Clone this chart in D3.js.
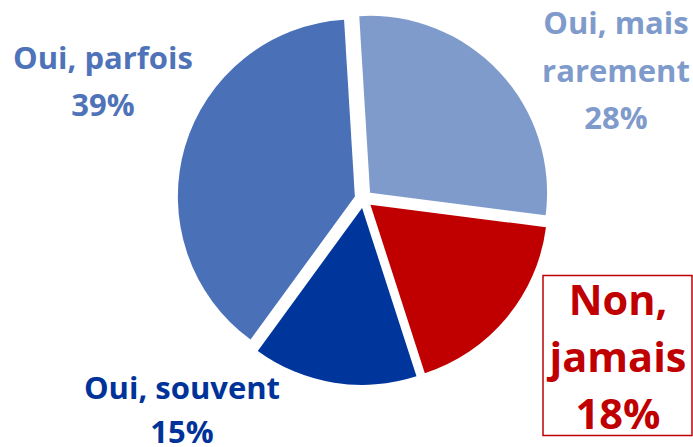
<!DOCTYPE html>
<html>
<head>
<meta charset="utf-8">
<script src="https://cdn.jsdelivr.net/npm/d3@7"></script>
<style>
  body { margin: 0; background: #fff; }
  text { font-family: "Open Sans", Lato, sans-serif; font-weight: bold; }
</style>
</head>
<body>
<div id="holder"></div>
<script>
const w = 693;
const h = 447;

// DATA
const labels = [["Oui, mais", "rarement"], ["Non,", "jamais"], ["Oui, souvent"], ["Oui, parfois"]];
const values = [28, 18, 15, 39];

// STYLE
const colors = ["#7f9bcc", "#c00000", "#00359c", "#4a70b7"];
const textColors = ["#7f9bcc", "#c00000", "#003399", "#4f73b9"];
const cx = 363.5, cy = 199, radius = 177, explode = 9;
const startDeg = -3.5;

// label anchor (centre x, first baseline y), font size, line gap
const labelPos = [
    { x: 616, y: 34, size: 31, gap: 47.5 },
    { x: 618, y: 315, size: 41.5, gap: 57 },
    { x: 182, y: 399, size: 31, gap: 44 },
    { x: 103, y: 69, size: 31, gap: 47 }
];

const svg = d3.select("#holder")
    .append("svg")
    .attr("width", w)
    .attr("height", h);

const pie = d3.pie()
    .sort(null)
    .value(d => d)
    .startAngle(startDeg * Math.PI / 180)
    .endAngle((startDeg + 360) * Math.PI / 180);

const arc = d3.arc().innerRadius(0).outerRadius(radius);

const arcs = pie(values);

// SLICES (exploded along the bisector)
svg.append("g")
    .attr("transform", `translate(${cx},${cy})`)
    .selectAll("path")
    .data(arcs)
    .enter()
    .append("path")
    .attr("d", arc)
    .attr("fill", (d, i) => colors[i])
    .attr("transform", d => {
        const a = (d.startAngle + d.endAngle) / 2;
        return `translate(${explode * Math.sin(a)},${-explode * Math.cos(a)})`;
    });

// BOX round "Non, jamais"
svg.append("rect")
    .attr("x", 543)
    .attr("y", 275.5)
    .attr("width", 149)
    .attr("height", 160)
    .attr("fill", "none")
    .attr("stroke", "#c00000")
    .attr("stroke-width", 1.5);

// LABELS
arcs.forEach((d, i) => {
    const p = labelPos[i];
    const lines = labels[i].concat([values[i] + "%"]);
    const t = svg.append("text")
        .attr("text-anchor", "middle")
        .attr("fill", textColors[i])
        .style("font-size", p.size + "px");
    lines.forEach((l, j) => {
        t.append("tspan")
            .attr("x", p.x)
            .attr("y", p.y + j * p.gap)
            .text(l);
    });
});
</script>
</body>
</html>
